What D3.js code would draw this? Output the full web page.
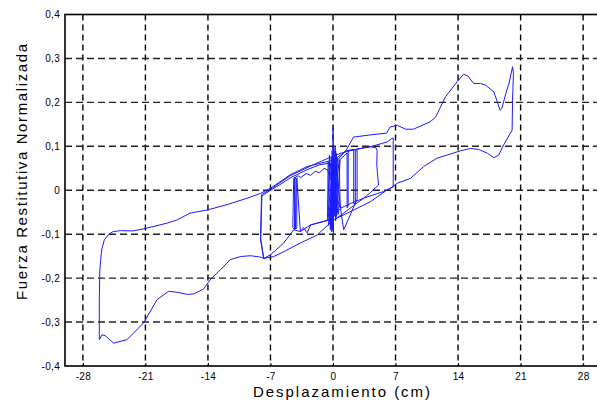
<!DOCTYPE html>
<html>
<head>
<meta charset="utf-8">
<script src="https://cdn.jsdelivr.net/npm/d3@7"></script>
<style>
  body { margin: 0; background: #fff; }
  svg { display: block; }
  text { font-family: Arial, "Liberation Sans", sans-serif; }
</style>
</head>
<body>
<script>
// tick values
var xTicks = [-28, -21, -14, -7, 0, 7, 14, 21, 28];
var yTicks = [-0.4, -0.3, -0.2, -0.1, 0, 0.1, 0.2, 0.3, 0.4];

// [displacement cm, normalised force], in drawing order
var centreNoise = [
  [0, 0], [0.2, 0.06], [-0.3, -0.05], [0.4, 0.08], [-0.5, -0.08], [0.5, 0.07],
  [-0.6, -0.07], [-0.4, 0.08], [-0.3, -0.09], [0.3, 0.09], [0.1, -0.06],
  [0.0, 0.144], [0.05, -0.1], [-0.2, 0.075], [-0.25, -0.085], [0.45, 0.06],
  [0.6, -0.055], [-0.55, 0.065], [-0.6, -0.06], [0.25, 0.1], [0.3, -0.07],
  [-0.1, 0.09], [-0.15, -0.095], [0.7, 0.07], [0.8, -0.04], [-0.6, 0.046]
];
var loopMinus45 = [
  [-1.0, 0.05], [-1.5, 0.04], [-2.0, 0.043], [-2.5, 0.034], [-3.0, 0.038],
  [-3.6, 0.029], [-3.9, 0.033], [-4.4, 0.027], [-4.5, -0.085], [-4.3, -0.09],
  [-4.3, 0.03], [-4.15, 0.025], [-4.2, -0.088], [-4.05, -0.086], [-4.05, 0.028],
  [-3.65, -0.094], [-3.3, -0.085],
  [-2.9, -0.097], [-2.5, -0.079], [-1.8, -0.075], [-0.9, -0.07], [-0.3, -0.065],
  [0.2, -0.05], [0.1, 0.08], [-0.4, -0.07], [0.35, 0.085], [0.4, -0.06]
];
var loopPlus2 = [
  [0.8, 0.07], [1.58, 0.085], [1.58, -0.04], [1.7, -0.035], [1.7, 0.09],
  [2.32, 0.093], [2.32, -0.03], [2.5, -0.03], [2.5, 0.09], [2.7, 0.09],
  [2.7, -0.02], [1.2, -0.09], [0.9, -0.05], [0.2, 0.07], [-0.2, -0.08]
];
var loopPlus5 = [
  [0.5, 0.075], [1.5, 0.09], [2.32, 0.092], [3.5, 0.097], [4.19, 0.099],
  [4.8, 0.097], [4.94, 0.09], [4.9, 0.06], [4.97, 0.04], [5.1, 0.012],
  [4.2, -0.005], [3.44, -0.018], [2.3, -0.035], [1.0, -0.055], [0.3, -0.065]
];
var loopInner = [
  [-0.3, 0.062], [-1.5, 0.058], [-3.0, 0.046], [-4.8, 0.028], [-6.0, 0.012],
  [-7.0, 0.0], [-7.96, -0.013], [-8.1, -0.113], [-7.76, -0.155], [-7.0, -0.147],
  [-5.52, -0.12], [-4.4, -0.09], [-3.65, -0.094], [-2.53, -0.079], [-1.78, -0.075],
  [-0.29, -0.0675], [0.83, -0.041], [2.0, -0.03], [3.44, -0.018], [5.64, -0.003],
  [6.74, 0.0075], [6.74, 0.119], [6.6, 0.118], [6.06, 0.11], [4.19, 0.099],
  [2.32, 0.092], [0.83, 0.084], [-0.29, 0.075], [-2.0, 0.06], [-4.8, 0.033],
  [-7.0, 0.002], [-8.0, -0.01], [-8.1, -0.11], [-7.76, -0.155]
];
var loopOuter = [
  [-8.13, -0.152], [-9.25, -0.149], [-10.37, -0.151], [-11.5, -0.158], [-12.6, -0.181],
  [-13.75, -0.204], [-14.5, -0.225], [-15.6, -0.236], [-16.3, -0.237], [-17.5, -0.232],
  [-18.4, -0.23], [-19.7, -0.249], [-21.2, -0.302], [-23.06, -0.34], [-24.56, -0.348],
  [-25.5, -0.331], [-25.86, -0.329], [-26.1, -0.338], [-26.16, -0.34], [-26.16, -0.249],
  [-26.1, -0.181], [-25.9, -0.136], [-25.6, -0.113], [-25.1, -0.1], [-24.6, -0.094],
  [-23.8, -0.092], [-22.35, -0.0925], [-20.8, -0.086], [-18.6, -0.075], [-17.5, -0.068],
  [-16.0, -0.052], [-14.1, -0.045], [-11.9, -0.033], [-9.6, -0.018], [-8.1, -0.007],
  [-7.0, 0.0045], [-4.8, 0.035], [-2.9, 0.054], [-0.3, 0.067], [0.6, 0.071],
  [1.5, 0.092], [2.3, 0.121], [4.2, 0.126], [6.0, 0.13], [6.4, 0.144],
  [7.2, 0.148], [8.1, 0.139], [9.0, 0.139], [9.8, 0.146], [10.9, 0.156],
  [11.5, 0.167], [12.6, 0.213], [13.9, 0.247], [14.6, 0.264], [15.1, 0.26],
  [15.75, 0.243], [16.5, 0.243], [17.1, 0.239], [18.0, 0.224], [18.4, 0.201],
  [18.7, 0.182], [18.9, 0.186], [19.3, 0.217], [19.7, 0.243], [20.1, 0.281],
  [20.2, 0.266], [20.1, 0.205], [20.05, 0.137], [19.1, 0.103], [18.55, 0.08],
  [18.0, 0.074], [17.3, 0.084], [16.3, 0.093], [15.4, 0.095], [14.3, 0.09],
  [13.15, 0.0825], [11.65, 0.073], [10.15, 0.054], [8.67, 0.027], [7.18, 0.016],
  [6.43, 0.0045], [6.06, 0.0007], [4.19, -0.026], [2.32, -0.045], [0.08, -0.067],
  [-1.78, -0.102], [-3.65, -0.12], [-5.52, -0.14], [-6.64, -0.151], [-7.76, -0.155]
];

var record = [].concat(centreNoise, loopMinus45, loopPlus2, loopPlus5, loopInner, loopOuter);

var width = 597, height = 401;
var margin = {top: 14.5, right: -4, bottom: 35, left: 65};

var x = d3.scaleLinear().domain([-30, 30]).range([margin.left, width - margin.right]);
var y = d3.scaleLinear().domain([-0.4, 0.4]).range([height - margin.bottom, margin.top]);

var svg = d3.select("body").append("svg")
    .attr("width", width)
    .attr("height", height);

var fmt = d => d === 0 ? "0" : d.toFixed(1).replace(".", ",");

// dashed grid
svg.append("g")
    .selectAll("line")
    .data(xTicks)
    .join("line")
    .attr("x1", d => x(d)).attr("x2", d => x(d))
    .attr("y1", y(0.4)).attr("y2", y(-0.4))
    .attr("stroke", "#000").attr("stroke-width", 1.4)
    .attr("stroke-dasharray", "6,4");

svg.append("g")
    .selectAll("line")
    .data(yTicks.slice(1, -1))
    .join("line")
    .attr("x1", x(-30)).attr("x2", x(30))
    .attr("y1", d => y(d)).attr("y2", d => y(d))
    .attr("stroke", "#222").attr("stroke-width", 1.4)
    .attr("stroke-dasharray", "7,4");

// curve
var line = d3.line().x(d => x(d[0])).y(d => y(d[1]));
svg.append("path")
    .datum(record)
    .attr("d", line)
    .attr("fill", "none")
    .attr("stroke", "#1a1aff")
    .attr("stroke-width", 1)
    .attr("stroke-linejoin", "round");

// frame
svg.append("rect")
    .attr("x", x(-30)).attr("y", y(0.4))
    .attr("width", x(30) - x(-30)).attr("height", y(-0.4) - y(0.4))
    .attr("fill", "none").attr("stroke", "#000").attr("stroke-width", 1.6);

// axes (labels only)
var xAxis = svg.append("g")
    .attr("transform", `translate(0,${y(-0.4)})`)
    .call(d3.axisBottom(x).tickValues(xTicks).tickSize(3).tickPadding(4).tickFormat(d => d));
xAxis.select(".domain").remove();
xAxis.selectAll(".tick line").attr("y2", -3).attr("stroke", "#000");

var yAxis = svg.append("g")
    .attr("transform", `translate(${x(-30)},0)`)
    .call(d3.axisLeft(y).tickValues(yTicks).tickSize(0).tickPadding(5).tickFormat(fmt));
yAxis.select(".domain").remove();

svg.selectAll(".tick text")
    .attr("font-family", "Arial, 'Liberation Sans', sans-serif")
    .attr("font-size", 10)
    .attr("letter-spacing", 0.3)
    .attr("fill", "#000");

// titles
svg.append("text")
    .attr("x", 341.5).attr("y", 397)
    .attr("text-anchor", "middle")
    .attr("font-size", 15)
    .attr("textLength", 177).attr("lengthAdjust", "spacing")
    .text("Desplazamiento (cm)");

svg.append("text")
    .attr("transform", "translate(27,172) rotate(-90)")
    .attr("text-anchor", "middle")
    .attr("font-size", 15)
    .attr("textLength", 256).attr("lengthAdjust", "spacing")
    .text("Fuerza  Restitutiva Normalizada");
</script>
</body>
</html>
